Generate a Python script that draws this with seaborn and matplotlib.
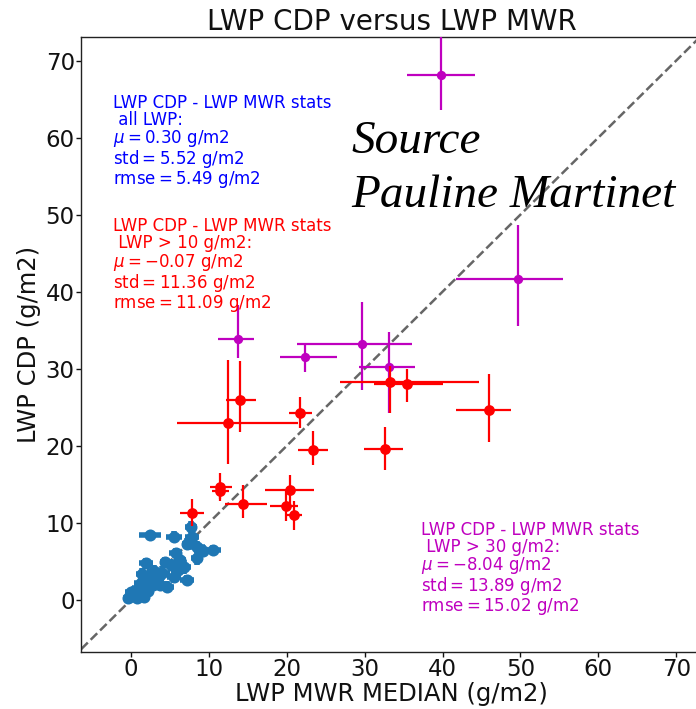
import numpy as np
import pandas as pd
import matplotlib
matplotlib.use("Agg")
import matplotlib.pyplot as plt
import seaborn as sns

# ---- LWP pairs: MWR median (x) vs CDP (y), with asymmetric uncertainty ----
# all LWP (CDP <= 10 g/m2)
blue_x = [2.5, 5.5, 7.7, 7.9, 8.5, 10.5, 8.5, 5.75, 5.1, 6.8, 1.9, 4.0, 5.5, 7.25,
          4.7, 1.3, 0.4, -0.4, 1.7, 3.0, 3.4, 0.2, 0.8, 2.2, 2.7, 6.3, 7.2, 9.2, 4.4,
          1.0, 2.0, 2.9, 0.0, 1.4, 3.8, 6.0]
blue_y = [8.4, 8.2, 9.5, 8.2, 6.9, 6.5, 5.4, 6.1, 4.5, 4.3, 4.8, 3.5, 3.0, 2.6,
          1.7, 2.2, 1.1, 0.2, 0.4, 3.7, 2.4, 0.5, 0.3, 1.2, 3.0, 5.2, 7.3, 6.4, 4.9,
          1.6, 2.8, 1.9, 1.0, 3.4, 2.0, 3.9]
blue_xerr = [1.4, 1.0, 0.8, 0.9, 1.0, 1.1, 0.8, 0.8, 0.9, 0.9, 0.9, 1.0, 0.9, 0.9,
             0.8, 0.9, 0.8, 0.6, 0.8, 0.9, 0.9, 0.6, 0.7, 0.8, 0.8, 0.8, 0.7, 0.8, 0.7,
             0.8, 0.9, 0.8, 0.7, 0.8, 0.8, 0.8]
blue_yerr = [0.6, 0.7, 0.8, 0.9, 0.8, 0.6, 0.8, 0.7, 0.8, 0.9, 0.7, 0.9, 0.8, 0.7,
             0.7, 0.8, 0.7, 0.5, 0.6, 0.8, 0.8, 0.5, 0.6, 0.7, 0.7, 0.7, 0.7, 0.7, 0.7,
             0.7, 0.8, 0.7, 0.6, 0.7, 0.7, 0.7]

# LWP > 10 g/m2
red_x = [14.0, 12.5, 21.7, 23.4, 32.6, 46.0, 33.2, 35.5, 11.5, 11.4, 14.4, 20.4, 19.9, 20.9, 7.8]
red_y = [26.0, 23.0, 24.3, 19.5, 19.6, 24.7, 28.3, 28.0, 14.6, 14.1, 12.5, 14.3, 12.2, 11.0, 11.25]
red_xlo = [1.8, 6.6, 1.4, 1.9, 2.7, 4.3, 6.3, 4.3, 1.3, 1.0, 2.3, 3.2, 2.0, 1.0, 1.5]
red_xhi = [2.1, 8.9, 1.6, 1.9, 2.3, 2.8, 11.5, 4.5, 1.5, 1.2, 3.1, 3.1, 1.5, 1.0, 1.6]
red_ylo = [4.2, 5.3, 2.0, 2.0, 2.7, 4.2, 4.1, 2.3, 1.5, 1.2, 1.9, 1.9, 2.0, 1.9, 1.7]
red_yhi = [5.0, 8.1, 2.1, 2.4, 2.8, 4.6, 2.0, 2.0, 1.9, 1.0, 2.4, 1.9, 2.0, 1.9, 1.9]

# LWP > 30 g/m2
mag_x = [39.8, 49.7, 13.7, 22.4, 29.7, 33.1]
mag_y = [68.1, 41.7, 33.8, 31.5, 33.2, 30.2]
mag_xlo = [4.4, 8.0, 2.5, 3.3, 8.4, 3.8]
mag_xhi = [4.4, 5.8, 2.1, 4.1, 6.4, 3.4]
mag_ylo = [4.5, 6.1, 2.4, 1.9, 5.9, 5.9]
mag_yhi = [6.0, 7.0, 4.5, 1.6, 5.5, 4.6]

ticks = [0, 10, 20, 30, 40, 50, 60, 70]

stats_all = "LWP CDP - LWP MWR stats\n all LWP:\n$\\mu = 0.30$ g/m2\nstd$ = 5.52$ g/m2\nrmse$ = 5.49$ g/m2"
stats_10 = "LWP CDP - LWP MWR stats\n LWP > 10 g/m2:\n$\\mu = -0.07$ g/m2\nstd$ = 11.36$ g/m2\nrmse$ = 11.09$ g/m2"
stats_30 = "LWP CDP - LWP MWR stats\n LWP > 30 g/m2:\n$\\mu = -8.04$ g/m2\nstd$ = 13.89$ g/m2\nrmse$ = 15.02$ g/m2"

sns.set_style("ticks")
plt.rcParams["font.family"] = ["DejaVu Sans"]
plt.rcParams["mathtext.fontset"] = "dejavusans"
plt.rcParams["text.color"] = "#111111"
plt.rcParams["axes.labelcolor"] = "#111111"
plt.rcParams["xtick.color"] = "#111111"
plt.rcParams["ytick.color"] = "#111111"

fig = plt.figure(figsize=(6.96, 7.09), dpi=100)
ax = fig.add_axes([81 / 696, 1 - 652 / 709, 621 / 696, 615 / 709])

ax.plot([-10, 80], [-10, 80], ls="--", color="0.4", lw=1.8, zorder=1)


def draw_group(x, y, xerr, yerr, color, lw, size, z):
    df = pd.DataFrame({"x": x, "y": y})
    ax.errorbar(df["x"], df["y"], xerr=xerr, yerr=yerr, fmt="none",
                ecolor=color, elinewidth=lw, capsize=0, zorder=z)
    sns.scatterplot(data=df, x="x", y="y", color=color, s=size,
                    linewidth=0, ax=ax, zorder=z + 0.5, legend=False)


draw_group(blue_x, blue_y, blue_xerr, blue_yerr, "#1f77b4", 4.0, 75, 2)
draw_group(mag_x, mag_y, [mag_xlo, mag_xhi], [mag_ylo, mag_yhi], "m", 1.6, 45, 3)
draw_group(red_x, red_y, [red_xlo, red_xhi], [red_ylo, red_yhi], "red", 1.6, 60, 4)

ax.set_xlim(-6.4, 73.3)
ax.set_ylim(-6.75, 73.05)
ax.set_xticks(ticks)
ax.set_yticks(ticks)
ax.tick_params(labelsize=16.5, length=3.5, width=1, pad=1)
ax.tick_params(axis="x", pad=0.5)
ax.set_xlabel("LWP MWR MEDIAN (g/m2)", fontsize=17.5, labelpad=1)
ax.set_ylabel("LWP CDP (g/m2)", fontsize=17.5, labelpad=3)
ax.set_title("LWP CDP versus LWP MWR", fontsize=20, pad=5)
for s in ax.spines.values():
    s.set_linewidth(1.0)
    s.set_color("#222222")

ax.text(-2.25, 65.6, stats_all, color="blue", fontsize=12, va="top", ha="left",
        linespacing=0.92, zorder=6)
ax.text(-2.25, 49.7, stats_10, color="red", fontsize=12, va="top", ha="left",
        linespacing=0.95, zorder=6)
ax.text(37.3, 10.2, stats_30, color="m", fontsize=12, va="top", ha="left",
        linespacing=0.92, zorder=6)

fig.text(351 / 696, 1 - 153 / 709, "Source", family="Liberation Serif",
         style="italic", fontsize=34, va="baseline", ha="left", color="black", zorder=10)
fig.text(351 / 696, 1 - 207 / 709, "Pauline Martinet", family="Liberation Serif",
         style="italic", fontsize=34, va="baseline", ha="left", color="black", zorder=10)

fig.savefig("out.png", dpi=100)
